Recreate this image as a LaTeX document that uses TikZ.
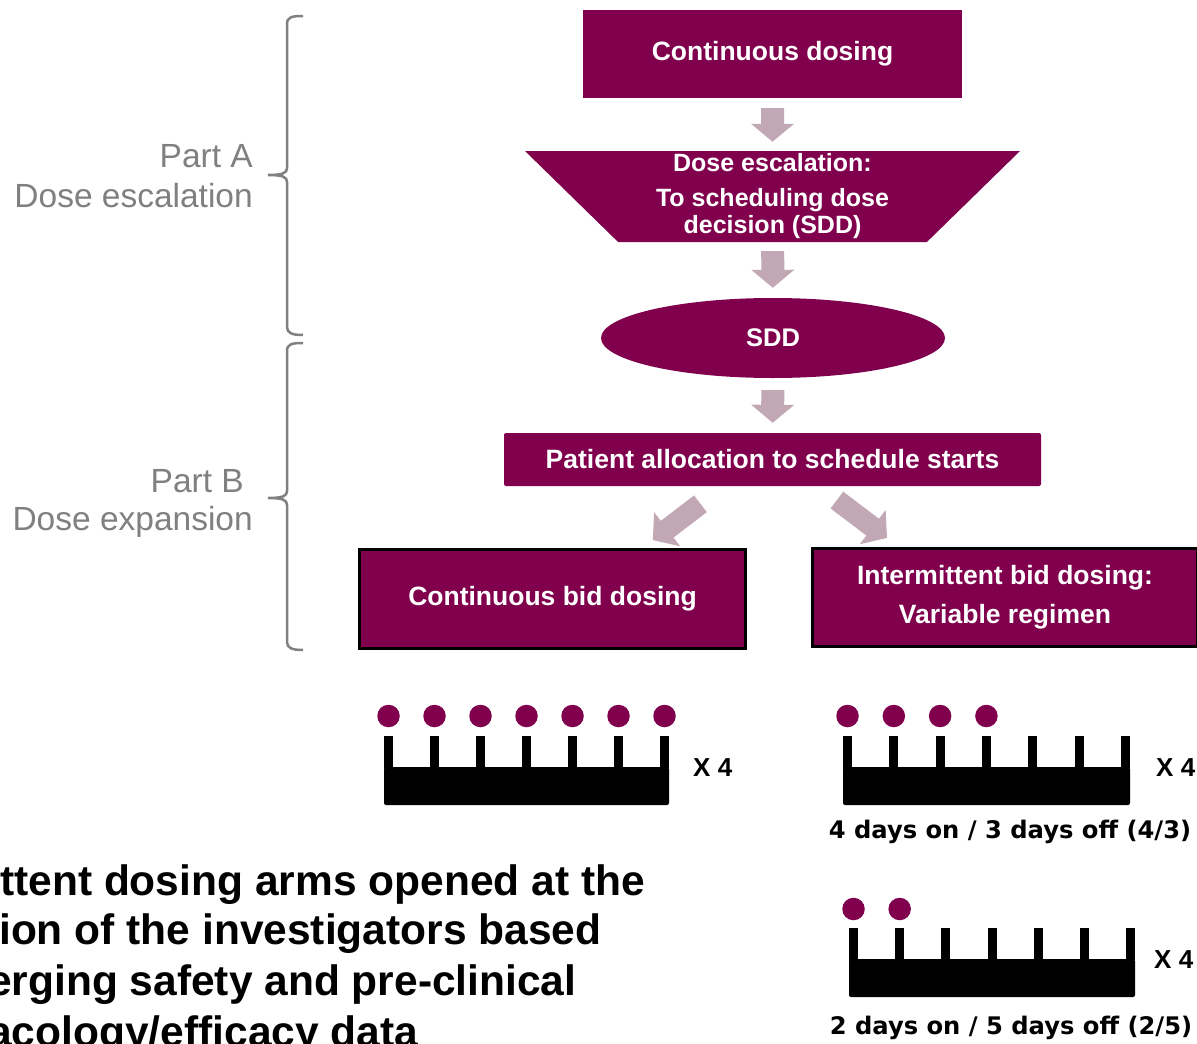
\documentclass[tikz,border=0pt]{standalone}
\usepackage{fontspec}
\setmainfont{Liberation Sans}
\newfontfamily\verdanalike{DejaVu Sans}
\usetikzlibrary{shapes.geometric,arrows.meta}
\definecolor{plum}{RGB}{128,0,77}
\definecolor{mauve}{RGB}{194,168,180}
\definecolor{partgray}{RGB}{128,128,128}

\begin{document}
\begin{tikzpicture}
[x=1pt, y=-1pt, every node/.style={inner sep=0pt},
 stepbox/.style={fill=plum, text=white, align=center, font=\fontsize{26.5}{31}\selectfont\bfseries},
 armbox/.style={stepbox, draw=black, line width=3pt},
 flow/.style={draw=mauve, line width=23pt, -{Triangle[width=42pt,length=18pt]}},
 partlabel/.style={anchor=base east, text=partgray, font=\fontsize{33.5}{40}\selectfont},
 bracket/.style={draw=partgray, line width=2.5pt},
 dayball/.style={circle, fill=plum, minimum size=22.5pt},
 timesfour/.style={anchor=west, font=\fontsize{26}{30}\selectfont\bfseries},
 regimen/.style={font=\verdanalike\fontsize{24.2}{28}\selectfont\bfseries},
 note/.style={anchor=base west, font=\fontsize{42.5}{50}\selectfont\bfseries}]
\useasboundingbox (0,0) rectangle (1197,1044);
\draw [bracket] (303,16) .. controls (292,16) and (287,17) .. (287,24) -- (287,168) .. controls (287,173) and (283,175) .. (268,175) .. controls (283,175) and (287,177) .. (287,182) -- (287,327) .. controls (287,333) and (292,335) .. (303,335);
\draw [bracket] (303,343) .. controls (292,343) and (287,344) .. (287,351) -- (287,491) .. controls (287,496) and (283,498) .. (268,498) .. controls (283,498) and (287,500) .. (287,505) -- (287,642) .. controls (287,648) and (292,650) .. (303,650);
\node (partA) [partlabel] at (253,167) {Part A};
\node (escA) [partlabel] at (253,207) {Dose escalation};
\node (partB) [partlabel] at (244,492) {Part B};
\node (expB) [partlabel] at (253,530) {Dose expansion};
\node (cont) [stepbox, minimum width=379pt, minimum height=88pt] at (772.5,54) {Continuous dosing};
\node (esc) [stepbox, trapezium, shape border rotate=180, trapezium angle=42.5, trapezium stretches body, minimum width=495pt, minimum height=91pt, font=\fontsize{25}{27}\selectfont\bfseries] at (772.5,196.5) {Dose escalation:\\[8pt]To scheduling dose\\decision (SDD)};
\node (sdd) [stepbox, ellipse, minimum width=344pt, minimum height=80pt, font=\fontsize{25.5}{30}\selectfont\bfseries] at (773,338) {SDD};
\node (alloc) [stepbox, rounded corners=2pt, minimum width=537pt, minimum height=53pt] at (772.5,459.5) {Patient allocation to schedule starts};
\node (contbid) [armbox, minimum width=386pt, minimum height=99pt] at (552.5,599) {Continuous bid dosing};
\node (intbid) [armbox, minimum width=385pt, minimum height=98pt] at (1005,597.5) {Intermittent bid dosing:\\[8pt]Variable regimen};
\draw [flow, shorten <=10pt, shorten >=9pt] (cont) -- (esc);
\draw [flow, shorten <=9pt, shorten >=10pt] (esc) -- (sdd);
\draw [flow, shorten <=12pt, shorten >=10pt] (sdd) -- (alloc);
\draw [flow, line width=21pt, shorten <=29pt, shorten >=13pt] ([xshift=-49pt]alloc.south) -- ([xshift=90pt]contbid.north);
\draw [flow, line width=21pt, shorten <=23pt, shorten >=15pt] ([xshift=46pt]alloc.south) -- ([xshift=-106pt]intbid.north);
\fill [rounded corners=2pt] (384,767) rectangle (669,805);
\foreach \i in {0,...,6}
  \fill ({384+\i*46},736) rectangle ++(9,31.5);
\foreach \i in {0,...,6}
  \node (cday\i) [dayball] at ({388.5+\i*46},716) {};
\node (cx4) [timesfour] at (693,768) {X 4};
\fill [rounded corners=2pt] (843,767) rectangle (1130,805);
\foreach \i in {0,...,6}
  \fill ({843+\i*46.3},736) rectangle ++(9,31.5);
\foreach \i in {0,...,3}
  \node (fday\i) [dayball] at ({847.5+\i*46.3},716) {};
\node (fx4) [timesfour] at (1156,768) {X 4};
\node (on43) [regimen] at (1010,832) {4 days on / 3 days off (4/3)};
\fill [rounded corners=2pt] (849,959) rectangle (1135,997);
\foreach \i in {0,...,6}
  \fill ({849+\i*46.17},928) rectangle ++(9,31.5);
\foreach \i in {0,1}
  \node (tday\i) [dayball] at ({853.5+\i*46.17},909) {};
\node (tx4) [timesfour] at (1154,960) {X 4};
\node (on25) [regimen] at (1011,1028) {2 days on / 5 days off (2/5)};
\node (note1) [note] at (0,895) {ttent dosing arms opened at the};
\node (note2) [note] at (-1,944) {ion of the investigators based};
\node (note3) [note] at (-12,995) {erging safety and pre-clinical};
\node (note4) [note] at (-12,1046) {acology/efficacy data};
\end{tikzpicture}
\end{document}
